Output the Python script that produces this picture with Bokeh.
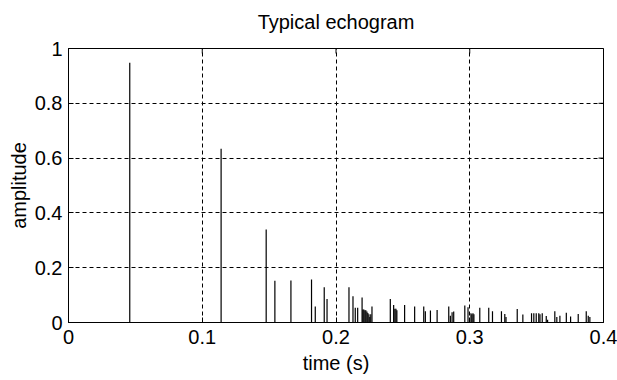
import math
from bokeh.plotting import figure
from bokeh.models import Range1d, FixedTicker, ColumnDataSource
from bokeh.embed import file_html
from bokeh.resources import INLINE

# ---- data ----
times = [0.0458, 0.1141, 0.1478, 0.1543, 0.1663, 0.1817, 0.1845, 0.1912, 0.1933,
         0.2097, 0.2127, 0.2144, 0.2162, 0.2195, 0.2201, 0.2208, 0.2216, 0.2223,
         0.2231, 0.2238, 0.2246, 0.2253, 0.2260, 0.2269, 0.2406, 0.2431, 0.2440,
         0.2448, 0.2455, 0.2513, 0.2588, 0.2656, 0.2668, 0.2706, 0.2756, 0.2843,
         0.2855, 0.2868, 0.2880, 0.2963, 0.2987, 0.3009, 0.3016, 0.3024, 0.3031,
         0.3075, 0.3142, 0.3170, 0.3237, 0.3262, 0.3271, 0.3355, 0.3397, 0.3462,
         0.3479, 0.3497, 0.3516, 0.3525, 0.3542, 0.3572, 0.3582, 0.3636, 0.3651,
         0.3674, 0.3722, 0.3754, 0.3811, 0.3871, 0.3886, 0.3898]
amplitudes = [0.948, 0.634, 0.339, 0.152, 0.153, 0.157, 0.058, 0.129, 0.086,
              0.129, 0.096, 0.054, 0.054, 0.091, 0.047, 0.047, 0.045, 0.045,
              0.040, 0.035, 0.030, 0.020, 0.030, 0.058, 0.086, 0.064, 0.050,
              0.050, 0.045, 0.064, 0.058, 0.058, 0.041, 0.044, 0.046, 0.058,
              0.025, 0.037, 0.040, 0.062, 0.056, 0.034, 0.030, 0.034, 0.030,
              0.054, 0.054, 0.041, 0.041, 0.031, 0.020, 0.049, 0.029, 0.034,
              0.034, 0.034, 0.034, 0.030, 0.034, 0.024, 0.010, 0.041, 0.020,
              0.025, 0.036, 0.022, 0.031, 0.041, 0.025, 0.020]
x_ticks = [0, 0.1, 0.2, 0.3, 0.4]
x_tick_labels = ["0", "0.1", "0.2", "0.3", "0.4"]
y_ticks = [0, 0.2, 0.4, 0.6, 0.8, 1]
y_tick_labels = ["0", "0.2", "0.4", "0.6", "0.8", "1"]
title_text = "Typical echogram"
x_label = "time (s)"
y_label = "amplitude"

X_MIN, X_MAX = 0, 0.4
Y_MIN, Y_MAX = 0, 1

FONT = "Liberation Sans"
FS = "20px"

src = ColumnDataSource(dict(t=times, amp=amplitudes))

p = figure(width=617, height=380, output_backend="svg", toolbar_location=None,
           x_range=Range1d(X_MIN, X_MAX), y_range=Range1d(Y_MIN, Y_MAX),
           min_border_left=68, min_border_right=14,
           min_border_top=48, min_border_bottom=58)
p.background_fill_color = "white"
p.border_fill_color = "white"
p.outline_line_color = "black"
p.outline_line_width = 1

p.title.text = title_text
p.title.align = "center"
p.title.text_font = FONT
p.title.text_font_size = FS
p.title.text_font_style = "normal"
p.title.text_color = "black"
p.title.padding = (0, 0, 0, 11)

for g, tk in ((p.xgrid, x_ticks), (p.ygrid, y_ticks)):
    g.ticker = FixedTicker(ticks=tk)
    g.grid_line_color = "black"
    g.grid_line_dash = "4 3"
    g.grid_line_width = 1

p.segment(x0="t", y0=0, x1="t", y1="amp", source=src,
          line_color="black", line_width=1.2)

# mirrored inward ticks on the top and right edges of the box
p.scatter(x=x_ticks, y=[Y_MAX] * len(x_ticks), marker="dash", size=10,
          angle=math.pi / 2, line_color="black", line_width=1)
p.scatter(x=[X_MAX] * len(y_ticks), y=y_ticks, marker="dash", size=10,
          line_color="black", line_width=1)

p.xaxis.ticker = FixedTicker(ticks=x_ticks)
p.yaxis.ticker = FixedTicker(ticks=y_ticks)
p.xaxis.major_label_overrides = {v: s for v, s in zip(x_ticks, x_tick_labels)}
p.yaxis.major_label_overrides = {v: s for v, s in zip(y_ticks, y_tick_labels)}
p.xaxis.axis_label = x_label
p.yaxis.axis_label = y_label

for ax in (p.xaxis + p.yaxis):
    ax.axis_line_color = "black"
    ax.major_tick_line_color = "black"
    ax.major_tick_in = 5
    ax.major_tick_out = 0
    ax.minor_tick_line_color = None
    ax.major_label_text_font = FONT
    ax.major_label_text_font_size = FS
    ax.major_label_text_color = "black"
    ax.axis_label_text_font = FONT
    ax.axis_label_text_font_size = FS
    ax.axis_label_text_font_style = "normal"
    ax.axis_label_text_color = "black"

p.xaxis.major_label_standoff = 7
p.xaxis.axis_label_standoff = 5
p.yaxis.major_label_standoff = 6
p.yaxis.axis_label_standoff = 2

open("out.html", "w").write(file_html(p, INLINE))
